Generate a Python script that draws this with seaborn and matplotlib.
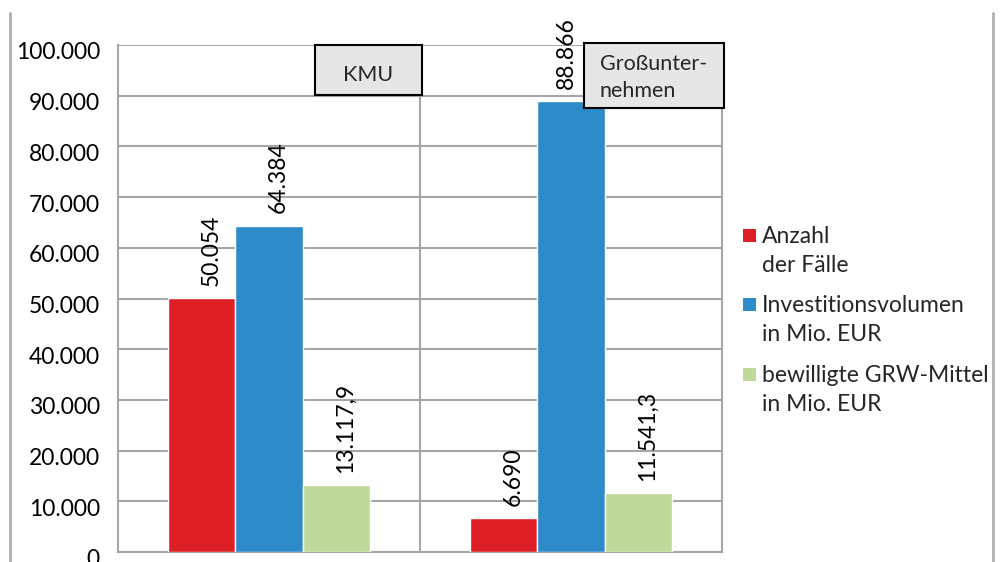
import matplotlib
matplotlib.use("Agg")
import numpy as np
import pandas as pd
import matplotlib.pyplot as plt
import matplotlib.transforms as mtransforms
from matplotlib.patches import Rectangle
from matplotlib.lines import Line2D
from matplotlib.ticker import FuncFormatter, MultipleLocator
import seaborn as sns

# --- data ---
categories = ["KMU", "Großunternehmen"]
category_labels = ["KMU", "Großunter-\nnehmen"]
series = ["Anzahl der Fälle", "Investitionsvolumen in Mio. EUR", "bewilligte GRW-Mittel in Mio. EUR"]
legend_labels = ["Anzahl\nder Fälle", "Investitionsvolumen\nin Mio. EUR", "bewilligte GRW-Mittel\nin Mio. EUR"]
anzahl = [50054, 6690]
investition = [64384, 88866]
grw_mittel = [13117.9, 11541.3]
decimals = [0, 0, 1]
colors = ["#DF1F26", "#2E8BC9", "#BFD99A"]
GRID = "#A6A6A6"

# horizontal nudge of each value label (points), per series / category
label_dx = [[6.5, 6.5], [6.5, -3.0], [6.5, 6.5]]


def de_fmt(v, nd=0):
    s = f"{v:,.{nd}f}"
    return s.replace(",", "X").replace(".", ",").replace("X", ".")


df = pd.DataFrame({
    "Kategorie": categories * 3,
    "Reihe": [series[0]] * 2 + [series[1]] * 2 + [series[2]] * 2,
    "Wert": anzahl + investition + grw_mittel,
})

sns.set_theme(style="white")
plt.rcParams["font.family"] = ["Lato", "DejaVu Sans"]

fig = plt.figure(figsize=(10.03, 5.62), dpi=100)
ax = fig.add_axes([118 / 1003, 1 - 552 / 562, 604 / 1003, 507 / 562])

sns.barplot(data=df, x="Kategorie", y="Wert", hue="Reihe", order=categories,
            hue_order=series, palette=colors, width=2 / 3, saturation=1,
            legend=False, ax=ax, zorder=3)

ax.set_xlim(-0.5, 1.5)
ax.set_ylim(0, 100000)
ax.yaxis.set_major_locator(MultipleLocator(10000))
ax.yaxis.set_major_formatter(FuncFormatter(lambda v, p: de_fmt(v)))
ax.tick_params(axis="y", length=0, pad=13, labelsize=16.5, labelcolor="black")
# tick labels sit a little below their gridlines, as in the original
shift = mtransforms.ScaledTranslation(0, -6 / 100, fig.dpi_scale_trans)
for lbl in ax.get_yticklabels():
    lbl.set_transform(lbl.get_transform() + shift)
ax.set_xticks([])
ax.set_xlabel("")
ax.set_ylabel("")
ax.grid(axis="y", color=GRID, lw=1.5, zorder=0)
ax.axvline(0.5, color=GRID, lw=1.5, zorder=1)
for side in ["left", "right", "bottom"]:
    ax.spines[side].set_color(GRID)
    ax.spines[side].set_linewidth(1.5)
ax.spines["top"].set_visible(False)

# value labels
for cont, nd, dxs in zip(ax.containers, decimals, label_dx):
    for bar, dx in zip(cont, dxs):
        h = bar.get_height()
        ax.annotate(de_fmt(h, nd), xy=(bar.get_x() + bar.get_width() / 2, h),
                    xytext=(dx, 9), textcoords="offset points", rotation=90,
                    ha="center", va="bottom", fontsize=16.5, color="black",
                    annotation_clip=False, zorder=8)

# category boxes
boxes = [(0.326, 0.901, 0.177, 0.099), (0.771, 0.876, 0.233, 0.128)]
for (bx, by, bw, bh) in boxes:
    ax.add_patch(Rectangle((bx, by), bw, bh, transform=ax.transAxes, facecolor="#E6E6E6",
                           edgecolor="black", lw=1.5, clip_on=False, zorder=6))
bx, by, bw, bh = boxes[0]
ax.text(bx + bw / 2, by + bh * 0.40, category_labels[0], transform=ax.transAxes, ha="center",
        va="center", fontsize=15.5, zorder=7)
bx, by, bw, bh = boxes[1]
ax.text(bx + 0.027, by + bh * 0.47, category_labels[1], transform=ax.transAxes, ha="left",
        va="center", fontsize=15.5, linespacing=1.45, zorder=7)

# legend (drawn by hand to keep squares on the first line)
entry_tops = [229, 298, 368]
for col, lab, top in zip(colors, legend_labels, entry_tops):
    fig.add_artist(Rectangle((743 / 1003, 1 - (top + 13) / 562), 13 / 1003, 13 / 562,
                             transform=fig.transFigure, facecolor=col, edgecolor="none"))
    fig.text(762 / 1003, 1 - (top - 3) / 562, lab, ha="left", va="top", fontsize=16.5,
             linespacing=1.45)

# outer frame lines
for xp in [10, 993]:
    fig.add_artist(Line2D([xp / 1003, xp / 1003], [0, 1 - 13 / 562], transform=fig.transFigure,
                          color="#B0B0B0", lw=2))

fig.savefig("out.png", dpi=100)
